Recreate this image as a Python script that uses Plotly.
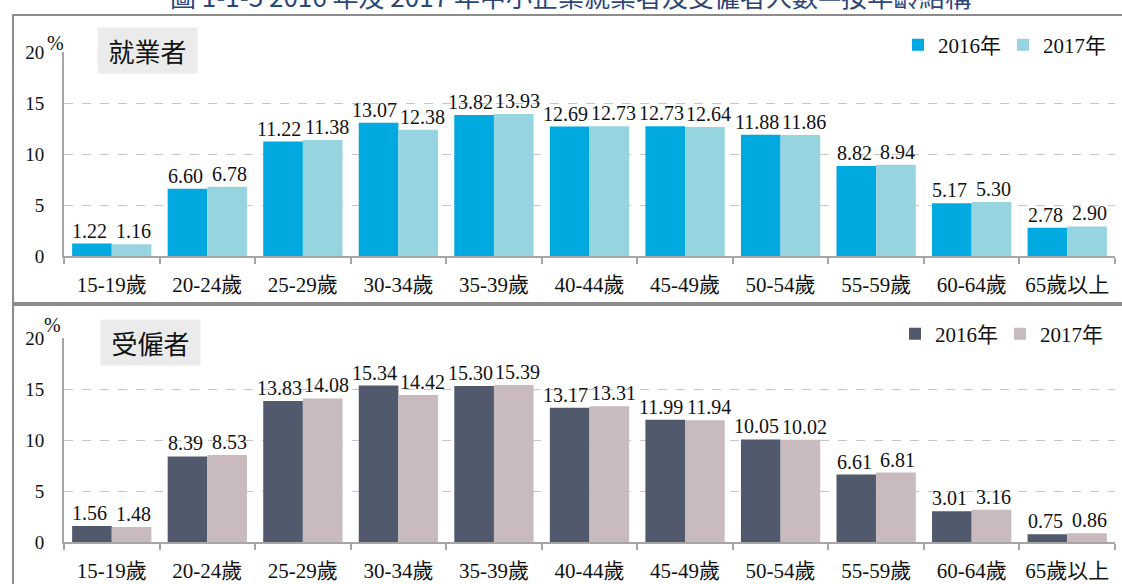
import plotly.graph_objects as go

categories = ["15-19歲", "20-24歲", "25-29歲", "30-34歲", "35-39歲", "40-44歲",
              "45-49歲", "50-54歲", "55-59歲", "60-64歲", "65歲以上"]
emp_2016 = [1.22, 6.60, 11.22, 13.07, 13.82, 12.69, 12.73, 11.88, 8.82, 5.17, 2.78]
emp_2017 = [1.16, 6.78, 11.38, 12.38, 13.93, 12.73, 12.64, 11.86, 8.94, 5.30, 2.90]
hired_2016 = [1.56, 8.39, 13.83, 15.34, 15.30, 13.17, 11.99, 10.05, 6.61, 3.01, 0.75]
hired_2017 = [1.48, 8.53, 14.08, 14.42, 15.39, 13.31, 11.94, 10.02, 6.81, 3.16, 0.86]
series_names = ["2016年", "2017年"]
y_ticks = [0, 5, 10, 15, 20]
panel_titles = ["就業者", "受僱者"]
title_text = "圖 1-1-5 2016 年及 2017 年中小企業就業者及受僱者人數—按年齡結構"

W, H = 1122, 584
def fx(x):
    return x / W
def fy(y):
    return 1 - y / H

SERIF = "Liberation Serif, Noto Sans CJK TC, serif"
SANS = "Noto Sans CJK TC, sans-serif"
colors_top = ["#00a9e0", "#96d5e0"]
colors_bot = ["#515a6d", "#c8babd"]

X0, X1 = 64, 1115
BARGAP = 0.17
cat_px = (X1 - X0) / len(categories)
bar_off = cat_px * (1 - BARGAP) / 4  # half of one bar's width

fig = go.Figure()
annotations = []

def add_series(vals, name, color, xa, ya, leg, side):
    fig.add_trace(go.Bar(
        x=categories, y=vals, name=name, marker=dict(color=color, line=dict(width=0)),
        xaxis=xa, yaxis=ya, legend=leg, hoverinfo="x+y",
    ))
    for c, v in zip(categories, vals):
        txt = f"{v:.2f}"
        extra = 4 if len(txt) >= 5 else 2
        annotations.append(dict(
            x=c, y=v, xref=xa, yref=ya, text=txt, showarrow=False,
            xanchor="center", yanchor="bottom",
            xshift=side * (bar_off + extra), yshift=0,
            font=dict(family=SERIF, size=20, color="#111111"),
        ))

add_series(emp_2016, series_names[0], colors_top[0], "x", "y", "legend", -1)
add_series(emp_2017, series_names[1], colors_top[1], "x", "y", "legend", 1)
add_series(hired_2016, series_names[0], colors_bot[0], "x2", "y2", "legend2", -1)
add_series(hired_2017, series_names[1], colors_bot[1], "x2", "y2", "legend2", 1)

xd = [fx(X0), fx(X1)]
top_dom = [fy(256), fy(52)]
bot_dom = [fy(542), fy(338)]

xaxis_common = dict(
    domain=xd, showline=True, linecolor="#a6a6a6", linewidth=2,
    ticks="outside", tickson="boundaries", ticklen=6, tickcolor="#a6a6a6", tickwidth=1.5,
    tickfont=dict(family=SERIF, size=21, color="#111111"), ticklabelstandoff=9,
    showgrid=False, zeroline=False, fixedrange=True,
)
yaxis_common = dict(
    range=[0, 20], tickvals=y_ticks, showgrid=True, gridcolor="#c6c6c6",
    griddash="dash", gridwidth=1, showline=True, linecolor="#a6a6a6", linewidth=2,
    ticks="", tickfont=dict(family=SERIF, size=19, color="#111111"),
    ticklabelstandoff=14, zeroline=False, fixedrange=True,
)

legend_common = dict(
    orientation="h", xanchor="left", yanchor="middle",
    font=dict(family=SERIF, size=21, color="#111111"),
    bgcolor="rgba(0,0,0,0)", itemwidth=30, tracegroupgap=0,
    entrywidth=60, entrywidthmode="pixels",
    itemclick=False, itemdoubleclick=False,
)

fig.update_layout(
    width=W, height=H, margin=dict(l=0, r=0, t=0, b=0, autoexpand=False),
    paper_bgcolor="white", plot_bgcolor="white",
    barmode="group", bargap=BARGAP, bargroupgap=0,
    xaxis=dict(anchor="y", **xaxis_common),
    yaxis=dict(anchor="x", domain=top_dom, **yaxis_common),
    xaxis2=dict(anchor="y2", **xaxis_common),
    yaxis2=dict(anchor="x2", domain=bot_dom, **yaxis_common),
    legend=dict(x=fx(898), y=fy(45), **legend_common),
    legend2=dict(x=fx(895), y=fy(334), **legend_common),
    showlegend=True,
)

shapes = [
    dict(type="rect", xref="paper", yref="paper", x0=fx(13), x1=1.05, y0=fy(303), y1=fy(15),
         line=dict(color="#8c8c8c", width=2), layer="below"),
    dict(type="rect", xref="paper", yref="paper", x0=fx(13), x1=1.05, y0=-0.05, y1=fy(305),
         line=dict(color="#8c8c8c", width=2), layer="below"),
]
fig.update_layout(shapes=shapes)

annotations += [
    dict(text=title_text, xref="paper", yref="paper", x=fx(570), y=fy(-4),
         xanchor="center", yanchor="middle", showarrow=False,
         font=dict(family=SANS, size=26, color="#2d4678")),
    dict(text=panel_titles[0], xref="paper", yref="paper", x=fx(147), y=fy(51),
         xanchor="center", yanchor="middle", showarrow=False, width=97, height=43,
         bgcolor="#ebebeb", font=dict(family=SANS, size=26, color="#111111")),
    dict(text=panel_titles[1], xref="paper", yref="paper", x=fx(150), y=fy(342),
         xanchor="center", yanchor="middle", showarrow=False, width=97, height=43,
         bgcolor="#ebebeb", font=dict(family=SANS, size=26, color="#111111")),
    dict(text="%", xref="paper", yref="paper", x=fx(55), y=fy(43),
         xanchor="center", yanchor="middle", showarrow=False,
         font=dict(family=SERIF, size=20, color="#111111")),
    dict(text="%", xref="paper", yref="paper", x=fx(52), y=fy(325),
         xanchor="center", yanchor="middle", showarrow=False,
         font=dict(family=SERIF, size=20, color="#111111")),
]
fig.update_layout(annotations=annotations)

fig.write_html(
    "out.html",
    config={"displayModeBar": False},
    post_script="document.body.style.margin='0';document.body.style.overflow='hidden';",
)
